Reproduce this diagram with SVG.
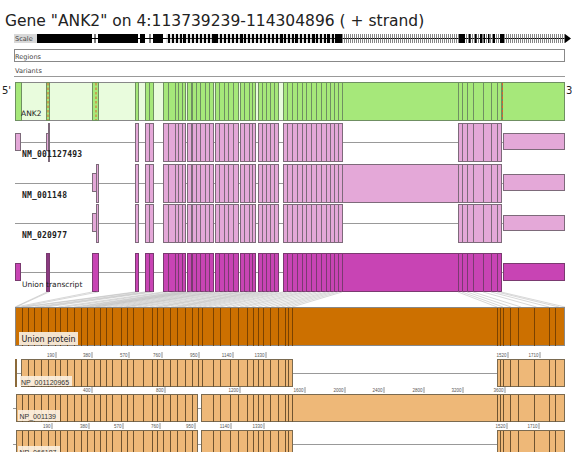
<svg xmlns="http://www.w3.org/2000/svg" xmlns:xlink="http://www.w3.org/1999/xlink" width="572" height="452" viewBox="0 0 572 452">
<style>
text{font-family:"DejaVu Sans",sans-serif}
.small{font-size:6.6px;fill:#444}
.trl{font-family:"DejaVu Sans Mono",monospace;font-size:8px;font-weight:bold;fill:#222;letter-spacing:0.2px}
.lbl{font-size:7.5px;fill:#222}
.npl{font-family:"Liberation Sans",sans-serif;font-size:7px;fill:#333}
.tk{font-family:"Liberation Sans",sans-serif;font-size:4.5px;fill:#555;text-anchor:end}
.tkl{stroke:#666;stroke-width:0.7}
.intron{stroke:#999;stroke-width:1}
.np{fill:#eeb878;stroke:#7a6a50;stroke-width:1}
.npline{stroke:#6e5330;stroke-width:1;fill:none}
.red{stroke:#e0602a;stroke-width:1;stroke-dasharray:2.5,2}
</style>
<defs>
<pattern id="bars4" width="4" height="10" patternUnits="userSpaceOnUse"><rect x="0" y="0" width="2" height="10" fill="#000"/><rect x="2.8" y="0" width="0.5" height="10" fill="#777"/></pattern>
<pattern id="hatch2" width="2" height="10" patternUnits="userSpaceOnUse"><rect x="0" y="0" width="0.8" height="10" fill="#666"/></pattern>
<g id="core">
<rect x="135" y="0" width="3" height="38"/>
<rect x="145" y="0" width="4" height="38"/><rect x="149" y="0" width="4" height="38"/>
<rect x="163" y="0" width="5" height="38"/><rect x="168" y="0" width="7" height="38"/><rect x="175" y="0" width="3" height="38"/><rect x="178" y="0" width="4" height="38"/><rect x="182" y="0" width="3" height="38"/>
<rect x="187" y="0" width="4" height="38"/>
<rect x="192" y="0" width="4" height="38"/><rect x="196" y="0" width="4" height="38"/><rect x="200" y="0" width="5" height="38"/><rect x="205" y="0" width="4" height="38"/><rect x="209" y="0" width="4" height="38"/>
<rect x="215" y="0" width="4" height="38"/><rect x="219" y="0" width="5" height="38"/><rect x="224" y="0" width="4" height="38"/><rect x="228" y="0" width="5" height="38"/><rect x="233" y="0" width="5" height="38"/>
<rect x="240" y="0" width="4" height="38"/><rect x="244" y="0" width="5" height="38"/><rect x="249" y="0" width="3" height="38"/><rect x="252" y="0" width="3" height="38"/>
<rect x="258" y="0" width="4" height="38"/><rect x="262" y="0" width="4" height="38"/><rect x="266" y="0" width="4" height="38"/><rect x="270" y="0" width="4" height="38"/><rect x="274" y="0" width="4" height="38"/>
<rect x="283" y="0" width="4" height="38"/><rect x="287" y="0" width="5" height="38"/><rect x="292" y="0" width="5" height="38"/><rect x="297" y="0" width="5" height="38"/><rect x="302" y="0" width="4" height="38"/><rect x="306" y="0" width="5" height="38"/><rect x="311" y="0" width="5" height="38"/><rect x="316" y="0" width="5" height="38"/><rect x="321" y="0" width="5" height="38"/><rect x="326" y="0" width="4" height="38"/><rect x="330" y="0" width="4" height="38"/><rect x="334" y="0" width="4" height="38"/><rect x="338" y="0" width="4" height="38"/>
<rect x="458" y="0" width="4" height="38"/><rect x="462" y="0" width="5" height="38"/><rect x="467" y="0" width="6" height="38"/><rect x="473" y="0" width="10" height="38"/><rect x="483" y="0" width="8" height="38"/><rect x="491" y="0" width="6" height="38"/><rect x="497" y="0" width="4" height="38"/>
</g>
</defs>

<text x="5" y="26" font-size="15.5" fill="#222">Gene "ANK2" on 4:113739239-114304896 ( + strand)</text>

<g id="scale">
<line x1="14" y1="38.5" x2="565" y2="38.5" stroke="#000" stroke-width="1"/>
<rect x="14" y="34" width="23" height="9" fill="#d8d8d8"/>
<text class="small" x="15" y="41" font-size="6">Scale</text>
<rect x="37" y="34" width="55" height="9" fill="#000"/>
<rect x="94.5" y="34" width="1" height="9" fill="#000"/>
<rect x="98" y="34" width="40" height="9" fill="#000"/>
<rect x="140" y="34" width="5" height="9" fill="#000"/>
<rect x="149.5" y="34" width="1" height="9" fill="#000"/>
<rect x="153" y="34" width="10" height="9" fill="#000"/>
<rect x="166" y="34" width="176" height="9" fill="url(#bars4)"/>
<rect x="183" y="34" width="3" height="9" fill="#000"/>
<rect x="214" y="34" width="3" height="9" fill="#000"/>
<rect x="240" y="34" width="3" height="9" fill="#000"/>
<rect x="280" y="34" width="3" height="9" fill="#000"/>
<rect x="295" y="34" width="2" height="9" fill="#000"/>
<rect x="313" y="34" width="2" height="9" fill="#000"/>
<rect x="327" y="34" width="3" height="9" fill="#000"/>
<rect x="335" y="34" width="7" height="9" fill="#000"/>
<rect x="342" y="34" width="223" height="9" fill="url(#hatch2)"/>
<rect x="459" y="34" width="6" height="9" fill="#000"/>
<rect x="469" y="34" width="1.5" height="9" fill="#000"/>
<rect x="475" y="34" width="1.5" height="9" fill="#000"/>
<rect x="480" y="34" width="2" height="9" fill="#000"/>
<rect x="483.5" y="34" width="1.5" height="9" fill="#000"/>
<rect x="488" y="34" width="1.5" height="9" fill="#000"/>
<rect x="493" y="34" width="2" height="9" fill="#000"/>
<rect x="500" y="34" width="4" height="9" fill="#000"/>
<polygon points="565,34 571,38.5 565,43" fill="#000"/>
</g>

<g id="regions">
<rect x="14.5" y="49.5" width="550" height="12" fill="#fff" stroke="#888"/>
<text class="small" x="15" y="58.5">Regions</text>
</g>
<g id="variants">
<line x1="14" y1="76.5" x2="565" y2="76.5" stroke="#999"/>
<text class="small" x="15" y="73">Variants</text>
</g>

<g id="gene-ANK2">
<text x="2" y="94" font-size="10" fill="#222">5'</text>
<text x="566" y="94" font-size="10" fill="#222">3'</text>
<rect x="15.5" y="82.5" width="549" height="38" fill="#e9fcdd" stroke="#888"/>
<g fill="#a6e87a" stroke="#6f8f62">
<rect x="15.5" y="82.5" width="6" height="38"/>
<rect x="46.5" y="82.5" width="3" height="38"/>
<rect x="92.5" y="82.5" width="6" height="38"/>
<use xlink:href="#core" x="0.5" y="82.5"/>
<rect x="342.5" y="82.5" width="116" height="38"/>
<rect x="502.5" y="82.5" width="62" height="38"/>
</g>
<line class="red" x1="48" y1="83" x2="48" y2="120"/>
<line class="red" x1="96" y1="83" x2="96" y2="120"/>
<line class="red" x1="502.5" y1="83" x2="502.5" y2="120"/>
<text class="lbl" x="21" y="115.5">ANK2</text>
</g>

<g id="NM_001127493">
<line class="intron" x1="15" y1="142.5" x2="503" y2="142.5"/>
<g fill="#e4a8d8" stroke="#7d6a7a">
<rect x="15.5" y="133.5" width="5" height="17"/>
<rect x="46.5" y="133.5" width="2" height="17"/>
<rect x="48.5" y="123.5" width="1" height="38"/>
<use xlink:href="#core" x="0.5" y="123.5"/>
<rect x="503.5" y="133.5" width="61" height="16"/>
</g>
<text class="trl" x="22" y="157">NM_001127493</text>
</g>

<g id="NM_001148">
<line class="intron" x1="15" y1="183.5" x2="503" y2="183.5"/>
<g fill="#e4a8d8" stroke="#7d6a7a">
<rect x="92.5" y="173.5" width="4" height="18"/>
<rect x="96.5" y="164.5" width="2" height="38"/>
<use xlink:href="#core" x="0.5" y="164.5"/>
<rect x="342.5" y="164.5" width="116" height="38"/>
<rect x="503.5" y="174.5" width="61" height="16"/>
</g>
<text class="trl" x="22" y="198">NM_001148</text>
</g>

<g id="NM_020977">
<line class="intron" x1="15" y1="223.5" x2="503" y2="223.5"/>
<g fill="#e4a8d8" stroke="#7d6a7a">
<rect x="92.5" y="213.5" width="4" height="18"/>
<rect x="96.5" y="204.5" width="2" height="38"/>
<use xlink:href="#core" x="0.5" y="204.5"/>
<rect x="503.5" y="215.5" width="61" height="15"/>
</g>
<text class="trl" x="22" y="238">NM_020977</text>
</g>

<g id="union-transcript">
<line class="intron" x1="15" y1="272.5" x2="503" y2="272.5"/>
<g fill="#c844b4" stroke="#7a3a70">
<rect x="15.5" y="263.5" width="5" height="17"/>
<rect x="46.5" y="253.5" width="3" height="38" fill="#8a3a80"/>
<rect x="92.5" y="253.5" width="6" height="38"/>
<use xlink:href="#core" x="0.5" y="253.5"/>
<rect x="342.5" y="253.5" width="116" height="38"/>
<rect x="503.5" y="263.5" width="61" height="17"/>
</g>
<text class="lbl" x="22" y="287">Union transcript</text>
</g>

<g id="connectors" stroke="#bdbdbd" stroke-width="0.6" fill="none">
<path d="M47 292L15 307M49 292L16 307M92 292L16 307M98 292L21 307M135 292L22 307M138 292L26 307M145 292L35 307M149 292L40 307M153 292L46 307M163 292L58.5 307M168 292L65 307M175 292L74 307M178 292L78 307M182 292L83 307M185 292L87 307M187 292L90 307M191 292L95 307M192 292L96 307M196 292L101.5 307M200 292L107 307M205 292L113 307M209 292L118.5 307M213 292L124 307M215 292L126 307M219 292L131.5 307M224 292L138 307M228 292L143 307M233 292L150 307M238 292L156 307M240 292L159 307M244 292L164 307M249 292L171 307M252 292L175 307M255 292L178.5 307M258 292L182 307M262 292L188 307M266 292L193 307M270 292L198 307M274 292L203 307M278 292L208.5 307M283 292L215 307M287 292L220 307M292 292L227 307M297 292L233 307M302 292L240 307M306 292L245 307M311 292L251.5 307M316 292L258 307M321 292L264.5 307M326 292L271 307M330 292L276 307M334 292L281.5 307M338 292L287 307M342 292L292 307M458 292L497 307M462 292L503 307M467 292L511 307M473 292L521 307M483 292L536.5 307M491 292L549 307M497 292L559 307M501 292L565 307"/>
</g>

<g id="union-protein">
<rect x="15.5" y="307.5" width="549" height="38" fill="#cc7000" stroke="#888"/>
<path stroke="#7a4200" stroke-width="1" fill="none" d="M22.5 308v38M28.5 308v38M34.5 308v38M41.5 308v38M48.5 308v38M55.5 308v38M60.5 308v38M67.5 308v38M74.5 308v38M81.5 308v38M87.5 308v38M94.5 308v38M100.5 308v38M106.5 308v38M112.5 308v38M121.5 308v38M127.5 308v38M133.5 308v38M143.5 308v38M152.5 308v38M157.5 308v38M163.5 308v38M170.5 308v38M177.5 308v38M185.5 308v38M192.5 308v38M198.5 308v38M202.5 308v38M213.5 308v38M220.5 308v38M230.5 308v38M238.5 308v38M247.5 308v38M253.5 308v38M258.5 308v38M263.5 308v38M270.5 308v38M278.5 308v38M285.5 308v38M288.5 308v38M292.5 308v38M497.5 308v38M500.5 308v38M503.5 308v38M510.5 308v38M518.5 308v38M534.5 308v38M549.5 308v38M555.5 308v38"/>
<rect x="19" y="332" width="59" height="13" fill="#f4e4cf"/>
<text x="21.5" y="342" font-size="8" fill="#222">Union protein</text>
</g>

<g id="NP_001120965">
<line class="intron" x1="16" y1="373.5" x2="21" y2="373.5"/>
<line class="intron" x1="293" y1="373.5" x2="497" y2="373.5"/>
<rect x="15" y="359" width="2" height="28" fill="#8b6a3a"/>
<rect class="np" x="21.5" y="359.5" width="271" height="27"/>
<rect class="np" x="497.5" y="359.5" width="67" height="27"/>
<path class="npline" d="M28.5 360v27M34.5 360v27M41.5 360v27M48.5 360v27M55.5 360v27M60.5 360v27M67.5 360v27M74.5 360v27M81.5 360v27M87.5 360v27M94.5 360v27M100.5 360v27M106.5 360v27M112.5 360v27M121.5 360v27M127.5 360v27M133.5 360v27M143.5 360v27M152.5 360v27M157.5 360v27M163.5 360v27M170.5 360v27M177.5 360v27M185.5 360v27M192.5 360v27M198.5 360v27M202.5 360v27M213.5 360v27M220.5 360v27M230.5 360v27M238.5 360v27M247.5 360v27M253.5 360v27M258.5 360v27M263.5 360v27M270.5 360v27M278.5 360v27M285.5 360v27M288.5 360v27M500.5 360v27M503.5 360v27M510.5 360v27M518.5 360v27M534.5 360v27M549.5 360v27M555.5 360v27"/>
<g class="tkl"><path d="M56 352v6M92 352v6M129 352v6M162 352v6M199 352v6M233 352v6M266 352v6M508 352v6M540 352v6"/></g>
<text class="tk" x="54.5" y="357">190</text><text class="tk" x="90.5" y="357">380</text><text class="tk" x="127.5" y="357">570</text><text class="tk" x="160.5" y="357">760</text><text class="tk" x="197.5" y="357">950</text><text class="tk" x="231.5" y="357">1140</text><text class="tk" x="264.5" y="357">1330</text><text class="tk" x="506.5" y="357">1520</text><text class="tk" x="538.5" y="357">1710</text>
<rect x="20" y="376" width="52" height="10" fill="#fbefe0" opacity="0.9"/>
<text class="npl" x="21" y="384.5">NP_001120965</text>
</g>

<g id="NP_001139">
<line class="intron" x1="13" y1="408.5" x2="16" y2="408.5"/>
<line class="intron" x1="198" y1="408.5" x2="201" y2="408.5"/>
<rect class="np" x="16.5" y="394.5" width="181" height="27"/>
<rect class="np" x="201.5" y="394.5" width="363" height="27"/>
<path class="npline" d="M22.5 395v27M28.5 395v27M34.5 395v27M41.5 395v27M48.5 395v27M55.5 395v27M60.5 395v27M67.5 395v27M74.5 395v27M81.5 395v27M87.5 395v27M94.5 395v27M100.5 395v27M106.5 395v27M112.5 395v27M121.5 395v27M127.5 395v27M133.5 395v27M143.5 395v27M152.5 395v27M157.5 395v27M163.5 395v27M170.5 395v27M177.5 395v27M185.5 395v27M192.5 395v27M213.5 395v27M220.5 395v27M230.5 395v27M238.5 395v27M247.5 395v27M253.5 395v27M258.5 395v27M263.5 395v27M270.5 395v27M278.5 395v27M285.5 395v27M288.5 395v27M292.5 395v27M497.5 395v27M500.5 395v27M503.5 395v27M510.5 395v27M518.5 395v27M534.5 395v27M549.5 395v27M555.5 395v27"/>
<g class="tkl"><path d="M92 387v6M165 387v6M240 387v6M305 387v6M345 387v6M384 387v6M424 387v6M463 387v6M505 387v6"/></g>
<text class="tk" x="90.5" y="392">400</text><text class="tk" x="163.5" y="392">800</text><text class="tk" x="238.5" y="392">1200</text><text class="tk" x="303.5" y="392">1600</text><text class="tk" x="343.5" y="392">2000</text><text class="tk" x="382.5" y="392">2400</text><text class="tk" x="422.5" y="392">2800</text><text class="tk" x="461.5" y="392">3200</text><text class="tk" x="503.5" y="392">3600</text>
<rect x="18" y="410" width="42" height="11" fill="#fbefe0" opacity="0.9"/>
<text class="npl" x="19.5" y="418.5">NP_001139</text>
</g>

<g id="NP_066187">
<line class="intron" x1="13" y1="444.5" x2="16" y2="444.5"/>
<line class="intron" x1="198" y1="444.5" x2="201" y2="444.5"/>
<line class="intron" x1="293" y1="444.5" x2="497" y2="444.5"/>
<rect class="np" x="16.5" y="430.5" width="181" height="27"/>
<rect class="np" x="201.5" y="430.5" width="91" height="27"/>
<rect class="np" x="497.5" y="430.5" width="67" height="27"/>
<path class="npline" d="M22.5 431v27M28.5 431v27M34.5 431v27M41.5 431v27M48.5 431v27M55.5 431v27M60.5 431v27M67.5 431v27M74.5 431v27M81.5 431v27M87.5 431v27M94.5 431v27M100.5 431v27M106.5 431v27M112.5 431v27M121.5 431v27M127.5 431v27M133.5 431v27M143.5 431v27M152.5 431v27M157.5 431v27M163.5 431v27M170.5 431v27M177.5 431v27M185.5 431v27M192.5 431v27M213.5 431v27M220.5 431v27M230.5 431v27M238.5 431v27M247.5 431v27M253.5 431v27M258.5 431v27M263.5 431v27M270.5 431v27M278.5 431v27M285.5 431v27M288.5 431v27M500.5 431v27M503.5 431v27M510.5 431v27M518.5 431v27M534.5 431v27M549.5 431v27M555.5 431v27"/>
<g class="tkl"><path d="M52 423v6M89 423v6M123 423v6M160 423v6M195 423v6M231 423v6M264 423v6M507 423v6M539 423v6"/></g>
<text class="tk" x="50.5" y="428">190</text><text class="tk" x="87.5" y="428">380</text><text class="tk" x="121.5" y="428">570</text><text class="tk" x="158.5" y="428">760</text><text class="tk" x="193.5" y="428">950</text><text class="tk" x="229.5" y="428">1140</text><text class="tk" x="262.5" y="428">1330</text><text class="tk" x="505.5" y="428">1520</text><text class="tk" x="537.5" y="428">1710</text>
<rect x="18" y="446" width="42" height="11" fill="#fbefe0" opacity="0.9"/>
<text class="npl" x="19.5" y="454.5">NP_066187</text>
</g>
</svg>
